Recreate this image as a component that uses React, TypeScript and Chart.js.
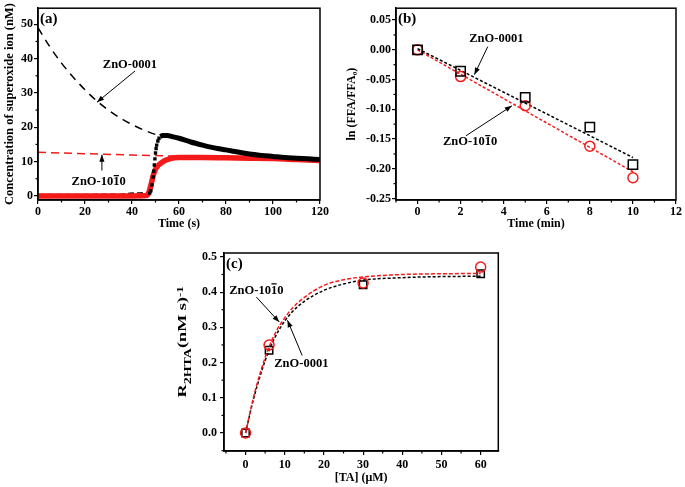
import React, { useEffect, useRef } from 'react';
import { Chart, registerables } from 'chart.js';

Chart.register(...registerables);

const SERIF = '"Liberation Serif", "Times New Roman", serif';

// ---------- Panel (a): superoxide concentration vs time ----------
const aXTicks = [0, 20, 40, 60, 80, 100, 120];
const aYTicks = [0, 10, 20, 30, 40, 50];
const aFit0001X = [0, 5, 10, 15, 20, 25, 30, 35, 40, 45, 50, 52];
const aFit0001Y = [49, 43.5, 38.7, 34.6, 30.9, 27.7, 25.0, 22.7, 20.8, 19.2, 17.9, 17.5];
const aFit1010X = [0, 20, 40, 58];
const aFit1010Y = [12.7, 12.3, 11.9, 11.6];
const a0001FlatX = [0, 20, 36, 40, 47];
const a0001FlatY = [0.2, 0.2, 0.3, 0.6, 0.7];
const a0001RiseX = [47.5, 48, 48.5, 49, 49.25, 49.5, 49.75, 50, 50.25, 50.5, 51, 51.5];
const a0001RiseY = [0.8, 1.5, 3.2, 5.5, 7.2, 9.0, 10.8, 12.5, 13.8, 14.8, 16.0, 16.8];
const a0001DecayX = [52, 53, 55, 57, 60, 65, 70, 75, 80, 85, 90, 95, 100, 105, 110, 115, 120];
const a0001DecayY = [17.3, 17.6, 17.6, 17.3, 16.8, 15.7, 14.8, 14.0, 13.4, 12.8, 12.2, 11.8, 11.5, 11.2, 11.0, 10.8, 10.6];
const a1010X = [0, 20, 40, 46, 47, 48, 49, 50, 51, 52, 54, 56, 58, 60, 70, 80, 90, 100, 110, 120];
const a1010Y = [0, 0, 0, 0.1, 0.7, 3.0, 5.9, 7.8, 8.8, 9.4, 10.3, 10.8, 11.1, 11.2, 11.2, 11.1, 11.0, 10.9, 10.6, 10.3];

// ---------- Panel (b): ln(FFA/FFA0) vs time ----------
const bXTicks = [0, 2, 4, 6, 8, 10, 12];
const bYTicks = [0.05, 0.0, -0.05, -0.1, -0.15, -0.2, -0.25];
const bTime = [0, 2, 5, 8, 10];
const b0001 = [0, -0.036, -0.08, -0.13, -0.193];
const b1010 = [0, -0.045, -0.094, -0.162, -0.215];
const bFitX = [0, 10];
const bFit0001 = [0.002, -0.181];
const bFit1010 = [0, -0.205];

// ---------- Panel (c): R2HTA vs [TA] ----------
const cXTicks = [0, 10, 20, 30, 40, 50, 60];
const cYTicks = [0, 0.1, 0.2, 0.3, 0.4, 0.5];
const cTA = [0, 6, 30, 60];
const c0001 = [0, 0.235, 0.421, 0.452];
const c1010 = [0, 0.25, 0.426, 0.471];
const cFitX = [0, 2, 4, 6, 8, 10, 12, 15, 20, 25, 30, 40, 50, 60];
const cFit0001 = [0, 0.095, 0.172, 0.235, 0.282, 0.318, 0.345, 0.374, 0.405, 0.423, 0.434, 0.441, 0.444, 0.445];
const cFit1010 = [0, 0.1, 0.18, 0.245, 0.292, 0.327, 0.355, 0.385, 0.419, 0.435, 0.443, 0.45, 0.452, 0.453];

const pts = (xs: number[], ys: number[]) => xs.map((x, i) => ({ x, y: ys[i] }));

const tickFont = { family: SERIF, size: 12, weight: 'bold' as const };

function axis(o: {
  horizontal: boolean; min: number; max: number; ticks: number[]; size: number;
  fmt: (v: number) => string; title?: string; titleFont?: number; titlePad?: any; tickPad: number;
}) {
  return {
    type: 'linear',
    min: o.min,
    max: o.max,
    afterFit: (s: any) => { if (o.horizontal) s.height = o.size; else s.width = o.size; },
    afterBuildTicks: (s: any) => { s.ticks = o.ticks.map((v) => ({ value: v })); },
    ticks: { font: tickFont, color: '#000', padding: o.tickPad, maxRotation: 0, autoSkip: false, callback: (v: any) => o.fmt(Number(v)) },
    grid: { display: true, drawOnChartArea: false, drawTicks: true, tickLength: 4, color: '#000', lineWidth: 1.2 },
    border: { display: true, color: '#000', width: 1.5 },
    title: o.title
      ? { display: true, text: o.title, color: '#000', font: { family: SERIF, size: o.titleFont || 12, weight: 'bold' }, padding: o.titlePad }
      : { display: false },
  };
}

function toPx(chart: any, x: number, y: number) {
  return [chart.scales.x.getPixelForValue(x), chart.scales.y.getPixelForValue(y)];
}

const decorPlugin = {
  id: 'decor',
  afterDraw(chart: any, _args: any, opts: any) {
    const { ctx, chartArea: a, scales } = chart;
    ctx.save();
    ctx.strokeStyle = '#000';
    ctx.fillStyle = '#000';
    ctx.lineWidth = 1.5;
    ctx.setLineDash([]);
    ctx.strokeRect(a.left, a.top, a.right - a.left, a.bottom - a.top);

    // minor ticks
    ctx.lineWidth = 1.2;
    const drawMinor = (scale: any, step: number, majors: number[], horizontal: boolean) => {
      const start = Math.ceil(scale.min / step - 1e-9) * step;
      for (let v = start; v <= scale.max + 1e-9; v += step) {
        if (majors.some((m) => Math.abs(m - v) < step / 10)) continue;
        const p = scale.getPixelForValue(v);
        ctx.beginPath();
        if (horizontal) { ctx.moveTo(p, a.bottom); ctx.lineTo(p, a.bottom + 2.5); }
        else { ctx.moveTo(a.left, p); ctx.lineTo(a.left - 2.5, p); }
        ctx.stroke();
      }
    };
    if (opts.minorX) drawMinor(scales.x, opts.minorX, opts.majorX, true);
    if (opts.minorY) drawMinor(scales.y, opts.minorY, opts.majorY, false);

    ctx.save();
    ctx.beginPath();
    ctx.rect(a.left, a.top, a.right - a.left, a.bottom - a.top);
    ctx.clip();
    // arrows
    (opts.arrows || []).forEach((ar: any) => {
      const [x1, y1] = toPx(chart, ar.x1, ar.y1);
      const [x2, y2] = toPx(chart, ar.x2, ar.y2);
      ctx.lineWidth = 1;
      ctx.beginPath(); ctx.moveTo(x1, y1); ctx.lineTo(x2, y2); ctx.stroke();
      const ang = Math.atan2(y2 - y1, x2 - x1);
      const L = 7, W = 2.6;
      ctx.beginPath();
      ctx.moveTo(x2, y2);
      ctx.lineTo(x2 - L * Math.cos(ang) + W * Math.sin(ang), y2 - L * Math.sin(ang) - W * Math.cos(ang));
      ctx.lineTo(x2 - L * Math.cos(ang) - W * Math.sin(ang), y2 - L * Math.sin(ang) + W * Math.cos(ang));
      ctx.closePath(); ctx.fill();
    });
    // texts
    (opts.texts || []).forEach((t: any) => {
      const [px, py] = toPx(chart, t.x, t.y);
      ctx.font = `bold 12.5px ${SERIF}`;
      ctx.textAlign = 'center';
      ctx.textBaseline = 'middle';
      ctx.fillText(t.text, px, py);
      if (t.over !== undefined) {
        const W = ctx.measureText(t.text).width;
        const pre = ctx.measureText(t.text.slice(0, t.over)).width;
        const cw = ctx.measureText(t.text[t.over]).width;
        const lx = px - W / 2 + pre;
        ctx.lineWidth = 1.2;
        ctx.beginPath(); ctx.moveTo(lx + 0.5, py - 6.5); ctx.lineTo(lx + cw - 0.5, py - 6.5); ctx.stroke();
      }
    });
    ctx.restore();

    // panel label
    if (opts.label) {
      ctx.font = `bold 15px ${SERIF}`;
      ctx.textAlign = 'left';
      ctx.textBaseline = 'middle';
      ctx.fillText(opts.label, a.left + 2, a.top + 11);
    }

    // rich rotated y title
    if (opts.rich) {
      const r = opts.rich;
      const segs = r.segs;
      const k = r.stretch || 1;
      let total = 0;
      segs.forEach((s: any) => { ctx.font = `bold ${s.size}px ${SERIF}`; s.w = ctx.measureText(s.t).width * k; total += s.w; });
      ctx.translate(r.cx, r.cy);
      ctx.rotate(-Math.PI / 2);
      ctx.textAlign = 'left';
      ctx.textBaseline = 'alphabetic';
      let x = -total / 2;
      segs.forEach((s: any) => {
        ctx.font = `bold ${s.size}px ${SERIF}`;
        ctx.save();
        ctx.translate(x, s.dy);
        ctx.scale(k, 1);
        ctx.fillText(s.t, 0, 0);
        ctx.restore();
        x += s.w;
      });
    }
    ctx.restore();
  },
};

const baseOptions = {
  responsive: false,
  animation: false,
  events: [] as any[],
  plugins: { legend: { display: false }, tooltip: { enabled: false } },
};

function configA() {
  return {
    type: 'scatter',
    data: {
      datasets: [
        { data: pts(aFit0001X, aFit0001Y), showLine: true, borderColor: '#000', borderWidth: 1.5, borderDash: [8, 6], pointRadius: 0, cubicInterpolationMode: 'monotone' },
        { data: pts(a0001RiseX, a0001RiseY), showLine: false, pointStyle: 'rect', pointRadius: 2.4, backgroundColor: '#000', borderColor: '#000', borderWidth: 0 },
        { data: pts(a0001DecayX, a0001DecayY), showLine: true, borderColor: '#000', borderWidth: 5, pointRadius: 0, cubicInterpolationMode: 'monotone' },
        { data: pts(a1010X, a1010Y), showLine: true, borderColor: '#f51a1a', borderWidth: 5.5, pointRadius: 0, cubicInterpolationMode: 'monotone' },
        { data: pts(a0001FlatX, a0001FlatY), showLine: true, borderColor: '#222', borderWidth: 3, borderDash: [6, 3], pointRadius: 0 },
        { data: pts(aFit1010X, aFit1010Y), showLine: true, borderColor: '#f51a1a', borderWidth: 1.5, borderDash: [8, 5], pointRadius: 0, cubicInterpolationMode: 'monotone' },
      ],
    },
    options: {
      ...baseOptions,
      layout: { padding: { top: 3, right: 15, left: 0, bottom: 0 } },
      scales: {
        x: axis({ horizontal: true, min: 0, max: 120, ticks: aXTicks, size: 40, fmt: (v) => String(v), title: 'Time (s)', titlePad: { top: 0, bottom: 9 }, tickPad: 1 }),
        y: axis({ horizontal: false, min: -1.2, max: 54.7, ticks: aYTicks, size: 38, fmt: (v) => String(v), title: 'Concentration of superoxide ion (nM)', titleFont: 12.5, titlePad: { top: 2, bottom: 0 }, tickPad: 1 }),
      },
      plugins: {
        ...baseOptions.plugins,
        decor: {
          minorX: 10, majorX: aXTicks, minorY: 5, majorY: aYTicks, label: '(a)',
          texts: [
            { x: 39.1, y: 38.1, text: 'ZnO-0001' },
            { x: 25.8, y: 4.0, text: 'ZnO-1010', over: 6 },
          ],
          arrows: [
            { x1: 41.3, y1: 36.4, x2: 25.1, y2: 27.3 },
            { x1: 27.2, y1: 7.4, x2: 27.2, y2: 12.0 },
          ],
        },
      },
    },
    plugins: [decorPlugin],
  };
}

function configB() {
  return {
    type: 'scatter',
    data: {
      datasets: [
        { data: pts(bTime, b0001), showLine: false, pointStyle: 'rect', pointRadius: 6.6, borderColor: '#000', backgroundColor: 'rgba(0,0,0,0)', borderWidth: 1.5 },
        { data: pts(bTime, b1010), showLine: false, pointStyle: 'circle', pointRadius: 5, borderColor: '#f51a1a', backgroundColor: 'rgba(0,0,0,0)', borderWidth: 1.5 },
        { data: pts(bFitX, bFit0001), showLine: true, borderColor: '#000', borderWidth: 1.5, borderDash: [3, 2], pointRadius: 0 },
        { data: pts(bFitX, bFit1010), showLine: true, borderColor: '#f51a1a', borderWidth: 1.5, borderDash: [3, 2], pointRadius: 0 },
      ],
    },
    options: {
      ...baseOptions,
      layout: { padding: { top: 3, right: 9, left: 0, bottom: 0 } },
      scales: {
        x: axis({ horizontal: true, min: -1, max: 12, ticks: bXTicks, size: 40, fmt: (v) => String(v), title: 'Time (min)', titlePad: { top: 0, bottom: 9 }, tickPad: 1 }),
        y: axis({ horizontal: false, min: -0.2525, max: 0.07, ticks: bYTicks, size: 56, fmt: (v) => v.toFixed(2), title: 'ln (FFA/FFA\u2080)', titlePad: { top: 5, bottom: 0 }, tickPad: 1 }),
      },
      plugins: {
        ...baseOptions.plugins,
        decor: {
          minorX: 1, majorX: bXTicks, minorY: 0.025, majorY: bYTicks, label: '(b)',
          texts: [
            { x: 3.66, y: 0.018, text: 'ZnO-0001' },
            { x: 2.44, y: -0.1553, text: 'ZnO-1010', over: 6 },
          ],
          arrows: [
            { x1: 3.26, y1: 0.0054, x2: 2.64, y2: -0.0417 },
            { x1: 2.25, y1: -0.1445, x2: 4.38, y2: -0.0942 },
          ],
        },
      },
    },
    plugins: [decorPlugin],
  };
}

function configC() {
  return {
    type: 'scatter',
    data: {
      datasets: [
        { data: pts(cTA, c1010), showLine: false, pointStyle: 'circle', pointRadius: 5, borderColor: '#f51a1a', backgroundColor: 'rgba(0,0,0,0)', borderWidth: 1.5 },
        { data: pts(cFitX, cFit1010), showLine: true, borderColor: '#f51a1a', borderWidth: 1.5, borderDash: [4, 2], pointRadius: 0, cubicInterpolationMode: 'monotone' },
        { data: pts(cFitX, cFit0001), showLine: true, borderColor: '#000', borderWidth: 1.5, borderDash: [3, 2], pointRadius: 0, cubicInterpolationMode: 'monotone' },
        { data: pts(cTA, c0001), showLine: false, pointStyle: 'rect', pointRadius: 5.2, borderColor: '#000', backgroundColor: 'rgba(0,0,0,0)', borderWidth: 1.5 },
      ],
    },
    options: {
      ...baseOptions,
      layout: { padding: { top: 13, right: 1, left: 0, bottom: 0 } },
      scales: {
        x: axis({ horizontal: true, min: -5.5, max: 64.5, ticks: cXTicks, size: 36, fmt: (v) => String(v), title: '[TA] (\u03bcM)', titlePad: { top: 0, bottom: 2 }, tickPad: 3 }),
        y: axis({ horizontal: false, min: -0.051, max: 0.511, ticks: cYTicks, size: 64, fmt: (v) => v.toFixed(1), tickPad: 3 }),
      },
      plugins: {
        ...baseOptions.plugins,
        decor: {
          minorX: 5, majorX: cXTicks, minorY: 0.05, majorY: cYTicks, label: '(c)',
          texts: [
            { x: 2.76, y: 0.405, text: 'ZnO-1010', over: 6 },
            { x: 14.24, y: 0.196, text: 'ZnO-0001' },
          ],
          arrows: [
            { x1: 2.76, y1: 0.386, x2: 8.6, y2: 0.315 },
            { x1: 14.45, y1: 0.22, x2: 10.7, y2: 0.32 },
          ],
          rich: {
            cx: 26, cy: 102, stretch: 1.4,
            segs: [
              { t: 'R', size: 13, dy: 0 },
              { t: '2HTA', size: 10, dy: 5 },
              { t: '(nM s', size: 13, dy: 0 },
              { t: ')', size: 13, dy: 0 },
              { t: '-1', size: 9, dy: -3 },
            ],
          },
        },
      },
    },
    plugins: [decorPlugin],
  };
}

function Panel({ left, top, width, height, make }: { left: number; top: number; width: number; height: number; make: () => any }) {
  const ref = useRef<HTMLCanvasElement>(null);
  useEffect(() => {
    const chart = new Chart(ref.current as HTMLCanvasElement, make());
    return () => chart.destroy();
  }, []);
  return (
    <div style={{ position: 'absolute', left, top, width, height }}>
      <canvas ref={ref} width={width} height={height} style={{ width, height, display: 'block' }} />
    </div>
  );
}

export default function App() {
  return (
    <div style={{ position: 'absolute', left: 0, top: 0, width: 685, height: 487, background: '#fff' }}>
      <Panel left={0} top={0} width={335} height={240} make={configA} />
      <Panel left={340} top={0} width={345} height={240} make={configB} />
      <Panel left={160} top={240} width={345} height={247} make={configC} />
    </div>
  );
}
